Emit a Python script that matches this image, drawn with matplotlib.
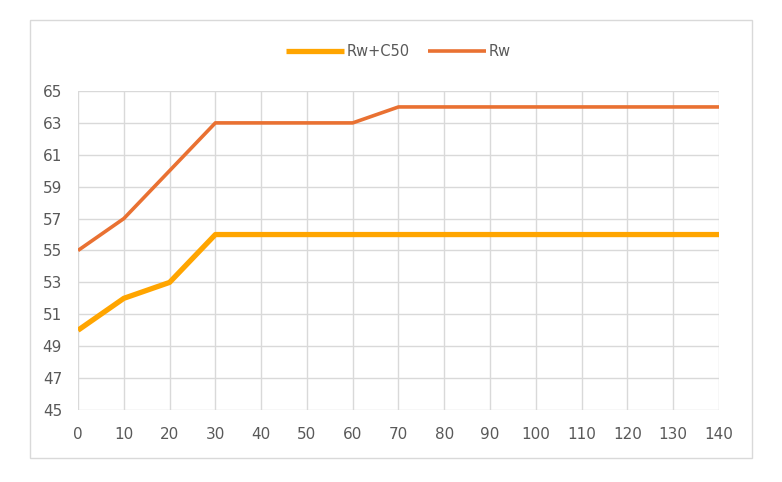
import matplotlib.pyplot as plt
from matplotlib.patches import Rectangle

# data
x = [0, 10, 20, 30, 40, 50, 60, 70, 80, 90, 100, 110, 120, 130, 140]
rw_c50 = [50, 52, 53, 56, 56, 56, 56, 56, 56, 56, 56, 56, 56, 56, 56]
rw = [55, 57, 60, 63, 63, 63, 63, 64, 64, 64, 64, 64, 64, 64, 64]
yticks = [45, 47, 49, 51, 53, 55, 57, 59, 61, 63, 65]

fig = plt.figure(figsize=(7.82, 4.82), dpi=100)
fig.patches.append(Rectangle((30 / 782, 1 - 458 / 482), 722 / 782, 438 / 482,
                             transform=fig.transFigure, fill=False,
                             edgecolor="#d9d9d9", linewidth=1))

ax = fig.add_axes([78 / 782, 1 - 410 / 482, 641 / 782, 319 / 482])
ax.plot(x, rw_c50, color="#FFA500", linewidth=3.8, label="Rw+C50", solid_capstyle="butt")
ax.plot(x, rw, color="#E97132", linewidth=2.6, label="Rw", solid_capstyle="butt")

ax.set_xlim(0, 140)
ax.set_ylim(45, 65)
ax.set_xticks(x)
ax.set_yticks(yticks)
ax.grid(True, color="#d9d9d9", linewidth=1)
ax.set_axisbelow(True)
for s in ax.spines.values():
    s.set_visible(False)
ax.tick_params(length=0, colors="#595959", labelsize=11)
ax.tick_params(axis="x", pad=12)
ax.tick_params(axis="y", pad=11.5)

ax.legend(loc="lower center", bbox_to_anchor=(0.5, 1.06), ncol=2, frameon=False,
          fontsize=10.5, labelcolor="#595959", handlelength=4, columnspacing=1.2,
          handletextpad=0.2)

fig.savefig("out.png", dpi=100)
